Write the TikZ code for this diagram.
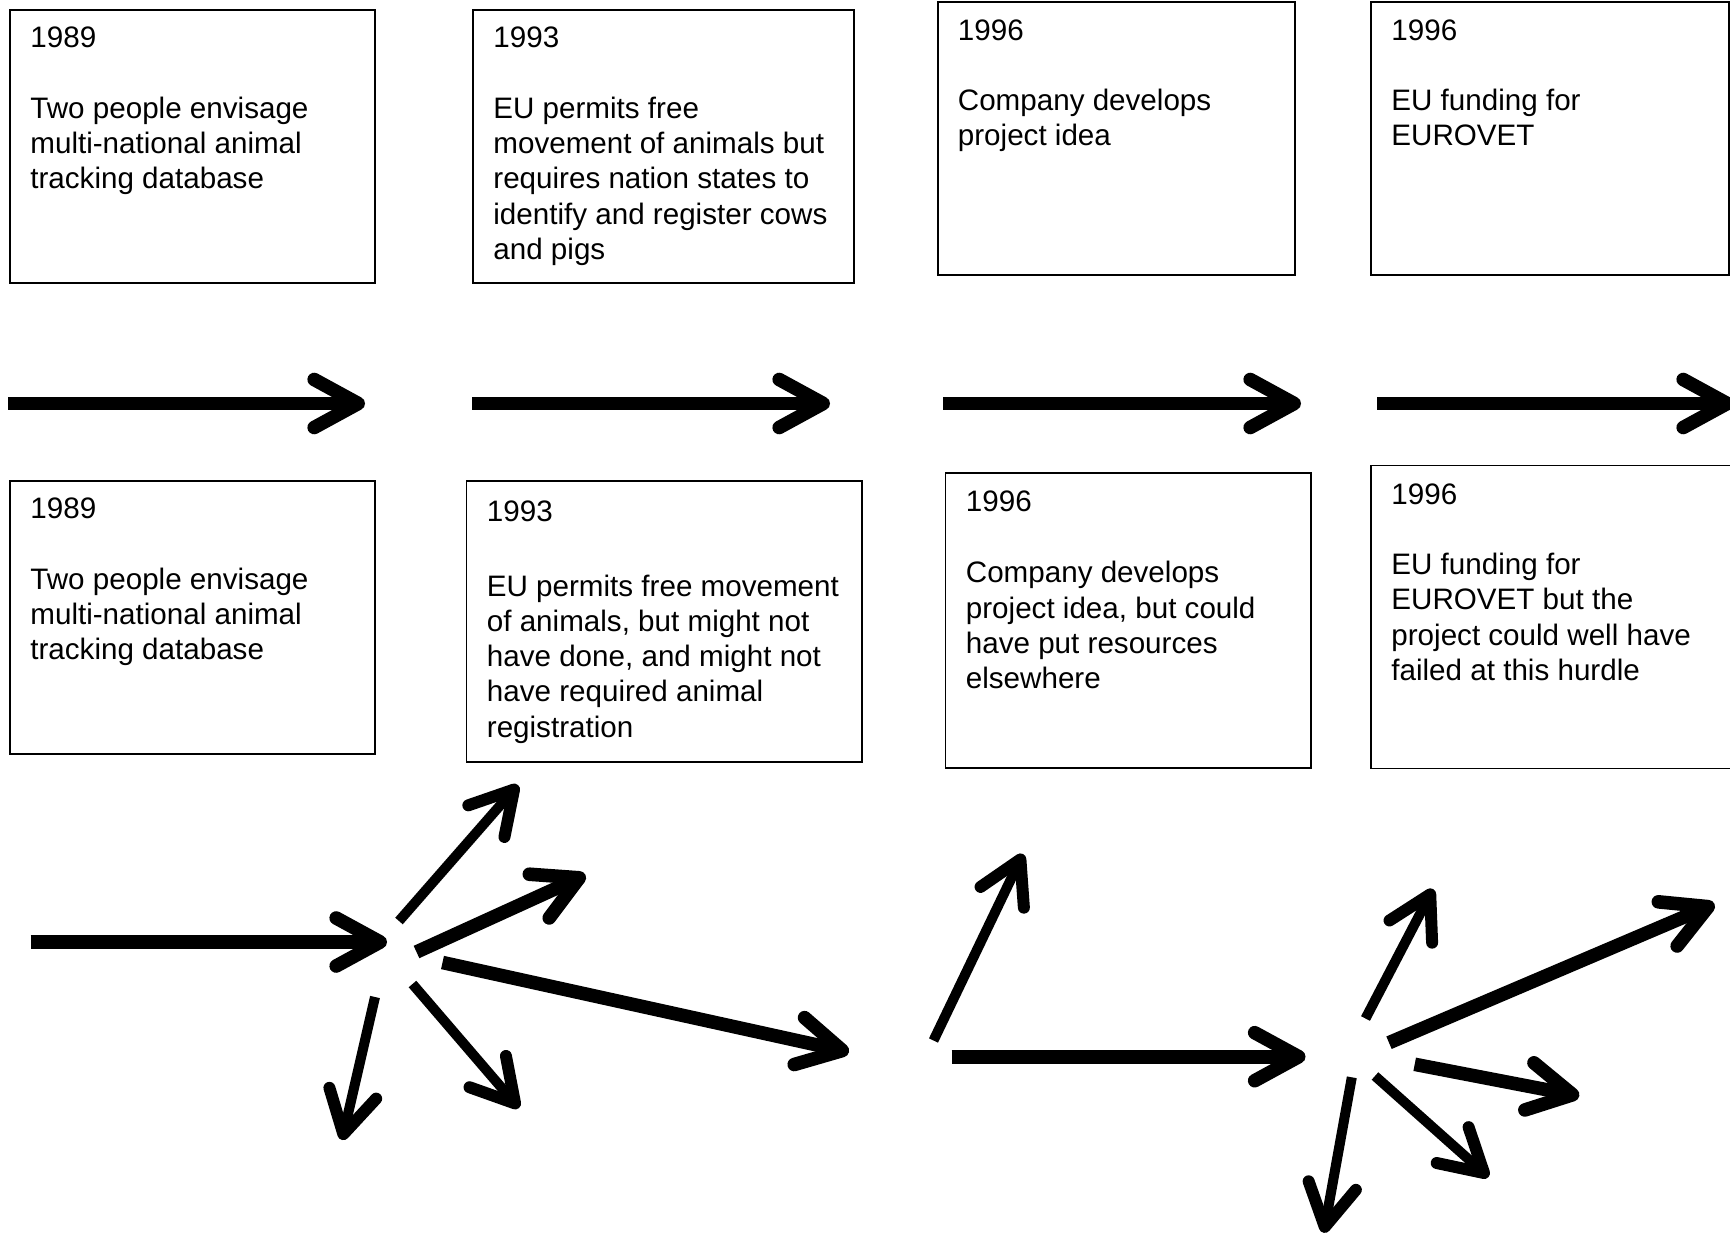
\documentclass[tikz,border=0pt]{standalone}
\usepackage{fontspec}
\setmainfont{Liberation Sans}
\usetikzlibrary{arrows.meta}
% text block of a card: year, a gap, then the description lines
\newcommand\cardtext[3]{\parbox[t]{200pt}{\raggedright #1\\[#2]#3}}
\begin{document}
\begin{tikzpicture}[x=0.5pt,y=-0.5pt,
  card/.style={draw=black, line width=0.85pt, inner sep=0pt, anchor=north west},
  caption/.style={inner sep=0pt, anchor=base west, font=\fontsize{14.8}{17.65}\selectfont},
  bigarrow/.style={line width=6.8pt, -{Straight Barb[length=22pt,width=24pt,round]}},
  thinarrow/.style={line width=5pt, -{Straight Barb[length=21pt,width=24pt,round,line width=6pt]}},
]
\useasboundingbox (0,0) rectangle (1730,1236);

% ---------- upper row of cards ----------
\node[card, minimum width=182.5pt, minimum height=136.5pt] (up1) at (9,9) {};
\node[card, minimum width=190.5pt, minimum height=136.5pt] (up2) at (472,9) {};
\node[card, minimum width=178.5pt, minimum height=136.5pt] (up3) at (937,1) {};
\node[card, minimum width=179pt,   minimum height=136.5pt] (up4) at (1370,1) {};

\node[caption] (upt1) at (30,47.8) {\cardtext{1989}{17.65pt}{Two people envisage\\multi-national animal\\tracking database}};
\node[caption] (upt2) at (493,47.8) {\cardtext{1993}{17.65pt}{EU permits free\\movement of animals but\\requires nation states to\\identify and register cows\\and pigs}};
\node[caption] (upt3) at (957.5,40.1) {\cardtext{1996}{17.65pt}{Company develops\\project idea}};
\node[caption] (upt4) at (1391,40.1) {\cardtext{1996}{17.65pt}{EU funding for\\EUROVET}};

% ---------- timeline arrows ----------
\coordinate (m1s) at (8,403.5);    \coordinate (m1e) at (365,403.5);
\coordinate (m2s) at (472,403.5);  \coordinate (m2e) at (830,403.5);
\coordinate (m3s) at (943,403.5);  \coordinate (m3e) at (1301,403.5);
\coordinate (m4s) at (1377,403.5); \coordinate (m4e) at (1734,403.5);
\draw[bigarrow] (m1s) -- (m1e);
\draw[bigarrow] (m2s) -- (m2e);
\draw[bigarrow] (m3s) -- (m3e);
\draw[bigarrow] (m4s) -- (m4e);

% ---------- lower row of cards ----------
\node[card, minimum width=182.5pt,  minimum height=136.5pt] (lo1) at (9,480) {};
\node[card, minimum width=197.75pt, minimum height=140.5pt] (lo2) at (465.5,480) {};
\node[card, minimum width=182.75pt, minimum height=147.5pt] (lo3) at (944.5,472) {};
\node[card, minimum width=181pt,    minimum height=151.5pt] (lo4) at (1370,464.5) {};

\node[caption] (lot1) at (30,518.4) {\cardtext{1989}{17.65pt}{Two people envisage\\multi-national animal\\tracking database}};
\node[caption] (lot2) at (486.5,521.1) {\cardtext{1993}{19.8pt}{EU permits free movement\\of animals, but might not\\have done, and might not\\have required animal\\registration}};
\node[caption] (lot3) at (965.5,511.1) {\cardtext{1996}{18.2pt}{Company develops\\project idea, but could\\have put resources\\elsewhere}};
\node[caption] (lot4) at (1391,504.4) {\cardtext{1996}{17.35pt}{EU funding for\\EUROVET but the\\project could well have\\failed at this hurdle}};

% ---------- first burst of possible paths ----------
\coordinate (a0) at (30.5,942);   \coordinate (a1) at (387,942);
\coordinate (b0) at (399,921);    \coordinate (b1) at (518,785);
\coordinate (c0) at (416.5,952);  \coordinate (c1) at (585.5,875);
\coordinate (d0) at (442.5,962.5);\coordinate (d1) at (849,1052);
\coordinate (e0) at (412.5,984);  \coordinate (e1) at (519,1108);
\coordinate (f0) at (375,997);    \coordinate (f1) at (342,1140);
\draw[bigarrow]  (a0) -- (a1);
\draw[thinarrow] (b0) -- (b1);
\draw[bigarrow]  (c0) -- (c1);
\draw[bigarrow]  (d0) -- (d1);
\draw[thinarrow] (e0) -- (e1);
\draw[thinarrow] (f0) -- (f1);

% ---------- second burst of possible paths ----------
\coordinate (g0) at (933.5,1040.5); \coordinate (g1) at (1023,854);
\coordinate (h0) at (951.5,1056.7); \coordinate (h1) at (1305.5,1056.7);
\coordinate (i0) at (1365.5,1018.5);\coordinate (i1) at (1433,889);
\coordinate (j0) at (1389,1042.7);  \coordinate (j1) at (1714.5,904);
\coordinate (k0) at (1414.7,1064.3);\coordinate (k1) at (1579.3,1096);
\coordinate (l0) at (1375,1076);    \coordinate (l1) at (1488.5,1177);
\coordinate (n0) at (1351.8,1077.3);\coordinate (n1) at (1323.7,1232.8);
\draw[thinarrow] (g0) -- (g1);
\draw[bigarrow]  (h0) -- (h1);
\draw[thinarrow] (i0) -- (i1);
\draw[bigarrow]  (j0) -- (j1);
\draw[bigarrow]  (k0) -- (k1);
\draw[thinarrow] (l0) -- (l1);
\draw[thinarrow] (n0) -- (n1);
\end{tikzpicture}
\end{document}
